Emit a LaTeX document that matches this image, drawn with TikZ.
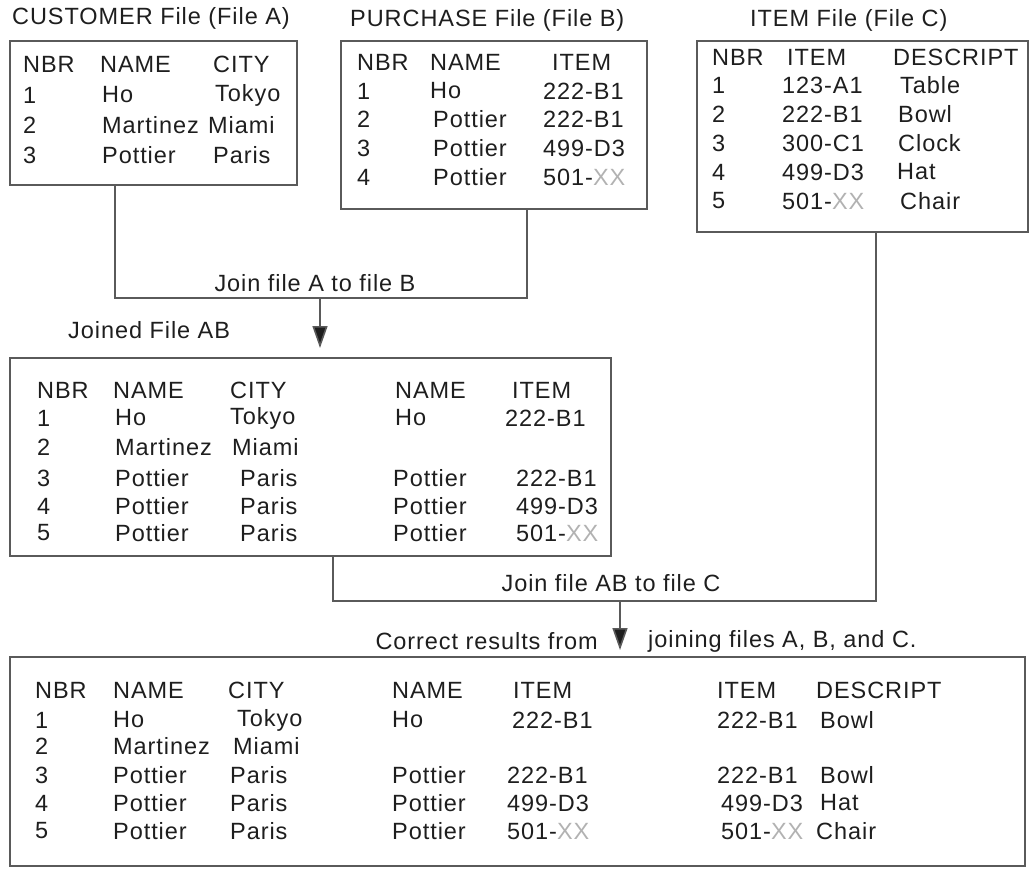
\documentclass[tikz,border=0pt]{standalone}
\usepackage{fontspec}
\setmainfont{Liberation Sans}[LetterSpace=4]
\usetikzlibrary{arrows.meta}
\definecolor{ln}{HTML}{5A5A5A}
\definecolor{tx}{HTML}{1E1E1E}
\newcommand{\gx}{\textcolor{gray!60}{XX}}
\newcommand{\tx}[4]{\node[t] (#1) at (#2,#3) {#4};}
\tikzset{
  box/.style={draw=ln, line width=2.4pt, inner sep=0pt, outer sep=0pt, anchor=north west},
  t/.style={anchor=west, inner sep=0pt, text=tx, font=\fontsize{23.5}{27}\selectfont},
  lbl/.style={inner sep=0pt, text=tx, font=\fontsize{23.5}{27}\selectfont},
  conn/.style={draw=ln, line width=1.6pt},
  arr/.style={conn, -{Triangle[width=15pt,length=22pt,fill=tx]}},
}
\begin{document}
\begin{tikzpicture}[x=1pt,y=-1pt]
\useasboundingbox (0,0) rectangle (1032,873);
% titles
\node[lbl, anchor=west] (titA) at (12,18) {CUSTOMER File (File A)};
\node[lbl, anchor=west] (titB) at (350,20) {PURCHASE File (File B)};
\node[lbl, anchor=west] (titC) at (750,20) {ITEM File (File C)};
% boxes
\node[box, minimum width=287pt, minimum height=144pt] (boxA) at (10,41) {};
\node[box, minimum width=306pt, minimum height=168pt] (boxB) at (341,41) {};
\node[box, minimum width=331pt, minimum height=191pt] (boxC) at (697,41) {};
\node[box, minimum width=601pt, minimum height=198pt] (boxAB) at (10,358) {};
\node[box, minimum width=1015pt, minimum height=209pt] (boxR) at (10,657) {};
% File A
\tx{a0}{23}{64}{NBR}\tx{a1}{100}{64}{NAME}\tx{a2}{213}{64}{CITY}
\tx{a3}{23}{95}{1}\tx{a4}{102}{95}{Ho}\tx{a5}{215}{95}{Tokyo}
\tx{a6}{23}{125}{2}\tx{a7}{102}{125}{Martinez}\tx{a8}{208}{125}{Miami}
\tx{a9}{23}{155}{3}\tx{a10}{102}{155}{Pottier}\tx{a11}{213}{155}{Paris}
% File B
\tx{b0}{357}{62}{NBR}\tx{b1}{430}{62}{NAME}\tx{b2}{552}{62}{ITEM}
\tx{b3}{357}{91}{1}\tx{b4}{430}{91}{Ho}\tx{b5}{543}{91}{222-B1}
\tx{b6}{357}{119}{2}\tx{b7}{433}{119}{Pottier}\tx{b8}{543}{119}{222-B1}
\tx{b9}{357}{148}{3}\tx{b10}{433}{148}{Pottier}\tx{b11}{543}{148}{499-D3}
\tx{b12}{357}{177}{4}\tx{b13}{433}{177}{Pottier}\tx{b14}{543}{177}{501-\gx}
% File C
\tx{c0}{712}{57}{NBR}\tx{c1}{787}{57}{ITEM}\tx{c2}{893}{57}{DESCRIPT}
\tx{c3}{712}{85}{1}\tx{c4}{782}{85}{123-A1}\tx{c5}{900}{85}{Table}
\tx{c6}{712}{114}{2}\tx{c7}{782}{114}{222-B1}\tx{c8}{898}{114}{Bowl}
\tx{c9}{712}{143}{3}\tx{c10}{782}{143}{300-C1}\tx{c11}{898}{143}{Clock}
\tx{c12}{712}{172}{4}\tx{c13}{782}{172}{499-D3}\tx{c14}{897}{172}{Hat}
\tx{c15}{712}{201}{5}\tx{c16}{782}{201}{501-\gx}\tx{c17}{900}{201}{Chair}
% connector 1
\coordinate (aOut) at (115,185);
\coordinate (bOut) at (527,209);
\coordinate (jAB) at (320,298);
\draw[conn] (boxA.south -| aOut) |- (jAB) -| (boxB.south -| bOut);
\draw[arr, shorten >=10pt] (jAB) -- (boxAB.north -| jAB);
\node[lbl] (lj1) at (315,283) {Join file A to file B};
\node[lbl, anchor=west] (lAB) at (68,330) {Joined File AB};
% File AB
\tx{d0}{37}{390}{NBR}\tx{d1}{113}{390}{NAME}\tx{d2}{230}{390}{CITY}\tx{d3}{395}{390}{NAME}\tx{d4}{512}{390}{ITEM}
\tx{d5}{37}{418}{1}\tx{d6}{115}{418}{Ho}\tx{d7}{230}{418}{Tokyo}\tx{d8}{395}{418}{Ho}\tx{d9}{505}{418}{222-B1}
\tx{d10}{37}{447}{2}\tx{d11}{115}{447}{Martinez}\tx{d12}{232}{447}{Miami}
\tx{d13}{37}{478}{3}\tx{d14}{115}{478}{Pottier}\tx{d15}{240}{478}{Paris}\tx{d16}{393}{478}{Pottier}\tx{d17}{516}{478}{222-B1}
\tx{d18}{37}{506}{4}\tx{d19}{115}{506}{Pottier}\tx{d20}{240}{506}{Paris}\tx{d21}{393}{506}{Pottier}\tx{d22}{516}{506}{499-D3}
\tx{d23}{37}{533}{5}\tx{d24}{115}{533}{Pottier}\tx{d25}{240}{533}{Paris}\tx{d26}{393}{533}{Pottier}\tx{d27}{516}{533}{501-\gx}
% connector 2
\coordinate (abOut) at (333,556);
\coordinate (cOut) at (876,232);
\coordinate (jR) at (620,601);
\draw[conn] (boxAB.south -| abOut) |- (jR) -| (boxC.south -| cOut);
\draw[arr, shorten >=7pt] (jR) -- (boxR.north -| jR);
\node[lbl] (lj2) at (611,583) {Join file AB to file C};
\node[lbl, anchor=east] (lr1) at (598,641) {Correct results from};
\node[lbl, anchor=west] (lr2) at (648,641) {joining files A, B, and C.};
% Result
\tx{e0}{35}{690}{NBR}\tx{e1}{113}{690}{NAME}\tx{e2}{228}{690}{CITY}\tx{e3}{392}{690}{NAME}\tx{e4}{513}{690}{ITEM}\tx{e5}{717}{690}{ITEM}\tx{e6}{816}{690}{DESCRIPT}
\tx{e7}{35}{720}{1}\tx{e8}{113}{720}{Ho}\tx{e9}{237}{720}{Tokyo}\tx{e10}{392}{720}{Ho}\tx{e11}{512}{720}{222-B1}\tx{e12}{717}{720}{222-B1}\tx{e13}{820}{720}{Bowl}
\tx{e14}{35}{746}{2}\tx{e15}{113}{746}{Martinez}\tx{e16}{233}{746}{Miami}
\tx{e17}{35}{775}{3}\tx{e18}{113}{775}{Pottier}\tx{e19}{230}{775}{Paris}\tx{e20}{392}{775}{Pottier}\tx{e21}{507}{775}{222-B1}\tx{e22}{717}{775}{222-B1}\tx{e23}{820}{775}{Bowl}
\tx{e24}{35}{803}{4}\tx{e25}{113}{803}{Pottier}\tx{e26}{230}{803}{Paris}\tx{e27}{392}{803}{Pottier}\tx{e28}{507}{803}{499-D3}\tx{e29}{721}{803}{499-D3}\tx{e30}{820}{803}{Hat}
\tx{e31}{35}{831}{5}\tx{e32}{113}{831}{Pottier}\tx{e33}{230}{831}{Paris}\tx{e34}{392}{831}{Pottier}\tx{e35}{507}{831}{501-\gx}\tx{e36}{721}{831}{501-\gx}\tx{e37}{816}{831}{Chair}
\end{tikzpicture}
\end{document}
